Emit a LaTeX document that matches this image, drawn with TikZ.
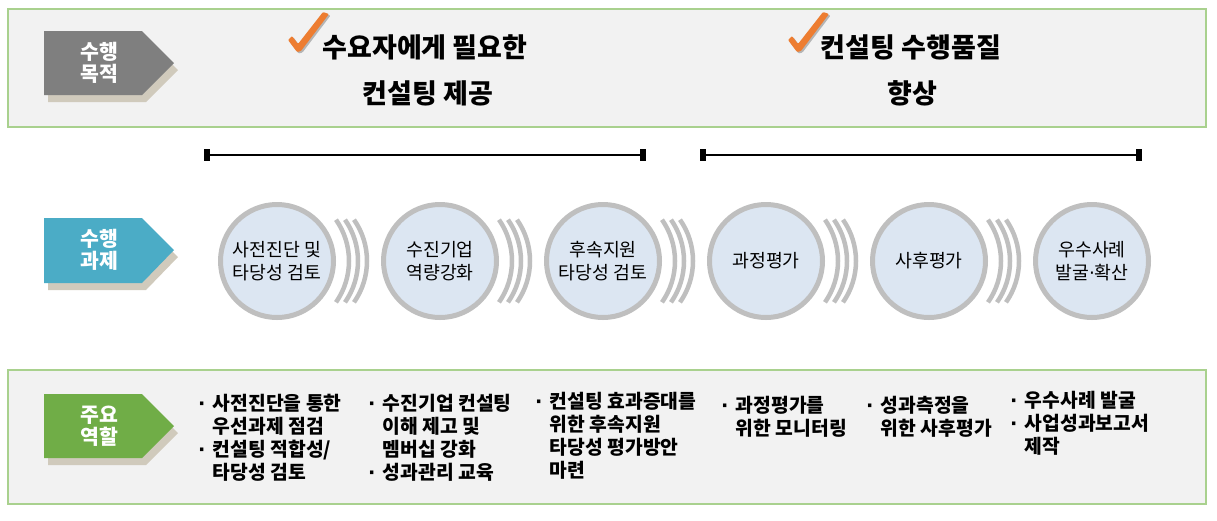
\documentclass[tikz,border=0pt]{standalone}
\usepackage{fontspec}
\setmainfont{Noto Sans CJK KR}
\newfontfamily\dotfont{DejaVu Sans}
\newcommand\bdot{{\dotfont\bfseries·}\hspace{3pt}\ }
\newcommand\bind{\hphantom{\bdot}}
\usetikzlibrary{calc}
\definecolor{boxfill}{HTML}{F2F2F2}
\definecolor{boxline}{HTML}{A9D18E}
\definecolor{lblgray}{HTML}{7F7F7F}
\definecolor{lblteal}{HTML}{4BACC6}
\definecolor{lblgreen}{HTML}{70AD47}
\definecolor{shadowc}{HTML}{D0CABC}
\definecolor{circfill}{HTML}{DCE6F2}
\definecolor{circline}{HTML}{BFBFBF}
\definecolor{chkorange}{HTML}{ED7D31}
\begin{document}
\begin{tikzpicture}[x=1pt,y=-1pt,
  panel/.style={fill=boxfill,draw=boxline,line width=1.2pt},
  lbltext/.style={text=white,font=\fontsize{20.5}{22}\selectfont\bfseries,align=center,inner sep=0},
  stage/.style={circle,draw=circline,fill=circfill,line width=5pt,minimum size=113pt,inner sep=0,align=center,font=\fontsize{18.3}{23}\selectfont},
  arcst/.style={draw=circline,line width=4.5pt},
  head/.style={font=\fontsize{27}{30}\selectfont\bfseries,inner sep=0},
  bul/.style={anchor=north west,align=left,inner sep=0,font=\fontsize{19.3}{23}\selectfont\bfseries},
  rangeline/.style={line width=2.5pt},
  endsq/.style={fill=black,minimum width=6pt,minimum height=12pt,inner sep=0},
  chk/.pic={
    \fill[black,opacity=0.25,rounded corners=1pt,shift={(1.5,1.5)}] (0,0) -- (-9,-12) -- (-5,-16) -- (1,-8) -- (26,-40) -- (32,-38) -- (4,-1) -- cycle;
    \fill[chkorange,rounded corners=1pt] (0,0) -- (-9,-12) -- (-5,-16) -- (1,-8) -- (26,-40) -- (32,-38) -- (4,-1) -- cycle;
  }
]
\useasboundingbox (0,0) rectangle (1217,520);
\fill[white] (0,0) rectangle (1217,520);

% panels
\draw[panel] (8,9) rectangle (1206,127);
\draw[panel] (8,370) rectangle (1206,504);

% label arrows
\fill[shadowc] (48,38) -- (146,38) -- (178,70) -- (146,102) -- (48,102) -- cycle;
\fill[lblgray] (44,31) -- (142,31) -- (174,63) -- (142,95) -- (44,95) -- cycle;
\node[lbltext] (lblA) at (99,63) {수행\\목적};

\fill[shadowc] (48,225) -- (146,225) -- (178,257) -- (146,290) -- (48,290) -- cycle;
\fill[lblteal] (44,218) -- (142,218) -- (174,250) -- (142,283) -- (44,283) -- cycle;
\node[lbltext] (lblB) at (99,250) {수행\\과제};

\fill[shadowc] (48,401) -- (146,401) -- (178,433) -- (146,465) -- (48,465) -- cycle;
\fill[lblgreen] (44,394) -- (142,394) -- (174,426) -- (142,458) -- (44,458) -- cycle;
\node[lbltext] (lblC) at (99,426) {주요\\역할};

% headlines
\pic at (297,52) {chk};
\node[head] (h1a) at (425,47) {수요자에게 필요한};
\node[head] (h1b) at (428,93) {컨설팅 제공};
\pic at (797,52) {chk};
\node[head] (h2a) at (911,47) {컨설팅 수행품질};
\node[head] (h2b) at (912,93) {향상};

% range bars
\node[endsq] (r1a) at (207,155) {};
\node[endsq] (r1b) at (643,155) {};
\draw[rangeline] (r1a) -- (r1b);
\node[endsq] (r2a) at (703,155) {};
\node[endsq] (r2b) at (1139,155) {};
\draw[rangeline] (r2a) -- (r2b);

% arcs between stages
\foreach \cx in {277,440,603,766,929} {
  \foreach \d in {0,9,18} {
    \draw[arcst] (\cx+\d,261) ++(-35:72) arc[start angle=-35,end angle=35,radius=72];
  }
}

% stages
\node[stage] (c1) at (277,261) {사전진단 및\\타당성 검토};
\node[stage] (c2) at (440,261) {수진기업\\역량강화};
\node[stage] (c3) at (603,261) {후속지원\\타당성 검토};
\node[stage] (c4) at (766,261) {과정평가};
\node[stage] (c5) at (929,261) {사후평가};
\node[stage] (c6) at (1092,261) {우수사례\\발굴{\dotfont·}확산};

% roles
\node[bul] (b1) at (198,394) {\bdot 사전진단을 통한\\\bind 우선과제 점검\\\bdot 컨설팅 적합성/\\\bind 타당성 검토};
\node[bul] (b2) at (368,394) {\bdot 수진기업 컨설팅\\\bind 이해 제고 및\\\bind 멤버십 강화\\\bdot 성과관리 교육};
\node[bul] (b3) at (535,392) {\bdot 컨설팅 효과증대를\\\bind 위한 후속지원\\\bind 타당성 평가방안\\\bind 마련};
\node[bul] (b4) at (721,396) {\bdot 과정평가를\\\bind 위한 모니터링};
\node[bul] (b5) at (866,396) {\bdot 성과측정을\\\bind 위한 사후평가};
\node[bul] (b6) at (1010,391) {\bdot 우수사례 발굴\\\bdot 사업성과보고서\\\bind 제작};
\end{tikzpicture}
\end{document}
